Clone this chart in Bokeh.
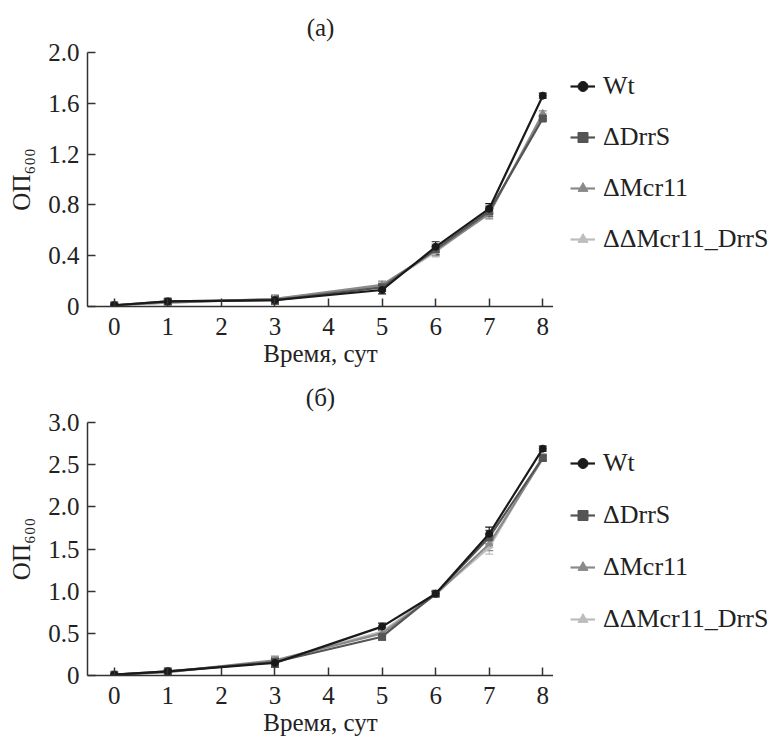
import numpy as np
from bokeh.plotting import figure
from bokeh.layouts import column, row
from bokeh.models import (ColumnDataSource, Whisker, Legend, LegendItem, FixedTicker,
                          NumeralTickFormatter, Title, TeeHead)
from bokeh.embed import file_html
from bokeh.resources import INLINE

# ---------------- data ----------------
days = [0, 1, 3, 5, 6, 7, 8]
series_names = ["Wt", "ΔDrrS", "ΔMcr11", "ΔΔMcr11_DrrS"]

# panel (а)
a_wt = [0.01, 0.04, 0.05, 0.13, 0.47, 0.77, 1.66]
a_drrs = [0.01, 0.04, 0.05, 0.15, 0.45, 0.75, 1.48]
a_mcr11 = [0.01, 0.03, 0.06, 0.17, 0.44, 0.73, 1.52]
a_dd = [0.01, 0.03, 0.06, 0.16, 0.43, 0.74, 1.50]
a_err = [0.01, 0.02, 0.03, 0.03, 0.04, 0.04, 0.02]

# panel (б)
b_wt = [0.01, 0.05, 0.15, 0.58, 0.97, 1.68, 2.69]
b_drrs = [0.01, 0.05, 0.16, 0.46, 0.97, 1.64, 2.58]
b_mcr11 = [0.01, 0.04, 0.18, 0.50, 0.96, 1.56, 2.57]
b_dd = [0.01, 0.04, 0.17, 0.52, 0.97, 1.52, 2.60]
b_err = [0.01, 0.02, 0.05, 0.04, 0.03, 0.08, 0.03]

x_ticks = [0, 1, 2, 3, 4, 5, 6, 7, 8]
a_yticks = [0, 0.4, 0.8, 1.2, 1.6, 2.0]
b_yticks = [0, 0.5, 1.0, 1.5, 2.0, 2.5, 3.0]

colors = ["#1a1a1a", "#555555", "#8a8a8a", "#bdbdbd"]
markers = ["circle", "square", "triangle", "triangle"]
angles = [0, 0, 0, -np.pi / 2]

FONT = "Liberation Serif"
AX = "#333333"
TXT = "#222222"


def make_panel(title, series, err, yticks, ymax, height, border_top, border_bottom,
               title_standoff, glyph_h, spacing):
    p = figure(width=553, height=height, x_range=(-0.5, 8.2), y_range=(0, ymax),
               output_backend="svg", toolbar_location=None,
               min_border_left=87, min_border_right=0,
               min_border_top=border_top, min_border_bottom=border_bottom)
    p.outline_line_color = None
    p.grid.visible = False
    p.background_fill_color = "white"
    p.border_fill_color = "white"

    t = Title(text=title, align="center", text_font=FONT, text_font_size="25px",
              text_font_style="normal", text_color=TXT, standoff=title_standoff)
    p.add_layout(t, "above")

    for i in [3, 2, 1, 0]:
        ys = series[i]
        src = ColumnDataSource(dict(x=days, y=ys,
                                    lo=[y - e for y, e in zip(ys, err)],
                                    hi=[y + e for y, e in zip(ys, err)]))
        w = Whisker(source=src, base="x", upper="hi", lower="lo",
                    line_color=colors[i], line_width=1.2,
                    upper_head=TeeHead(size=8, line_color=colors[i], line_width=1.2),
                    lower_head=TeeHead(size=8, line_color=colors[i], line_width=1.2))
        p.add_layout(w)
        p.line("x", "y", source=src, line_color=colors[i], line_width=2.2)
        p.scatter("x", "y", source=src, marker=markers[i], size=7,
                  angle=angles[i], fill_color=colors[i], line_color=colors[i])

    p.xaxis.ticker = FixedTicker(ticks=x_ticks)
    p.yaxis.ticker = FixedTicker(ticks=yticks)
    p.yaxis.formatter = NumeralTickFormatter(format="0.0")
    p.yaxis.major_label_overrides = {0: "0"}
    for ax in (p.xaxis, p.yaxis):
        ax.axis_line_color = AX
        ax.axis_line_width = 1.5
        ax.major_tick_line_color = AX
        ax.major_tick_line_width = 1.5
        ax.major_tick_in = 8
        ax.major_tick_out = 0
        ax.minor_tick_line_color = None
        ax.major_label_text_font = FONT
        ax.major_label_text_font_size = "25px"
        ax.major_label_text_color = TXT
        ax.axis_label_text_font = FONT
        ax.axis_label_text_font_size = "25px"
        ax.axis_label_text_font_style = "normal"
        ax.axis_label_text_color = TXT
    p.xaxis.axis_label = "Время, сут"
    p.xaxis.major_label_standoff = 11
    p.xaxis.axis_label_standoff = 2
    p.yaxis.axis_label = "ОП₆₀₀"
    p.yaxis.major_label_standoff = 8
    p.yaxis.axis_label_standoff = 10

    # legend in a side figure (legend glyphs only, nothing drawn in its frame)
    lf = figure(width=223, height=height, x_range=(0, 1), y_range=(0, 1),
                x_axis_type=None, y_axis_type=None,
                output_backend="svg", toolbar_location=None,
                min_border_left=0, min_border_right=0,
                min_border_top=border_top, min_border_bottom=0)
    lf.outline_line_color = None
    lf.grid.visible = False
    items = []
    for i in range(4):
        dummy = ColumnDataSource(dict(x=[np.nan], y=[np.nan]))
        ln = lf.line("x", "y", source=dummy, line_color=colors[i], line_width=2.2)
        sc = lf.scatter("x", "y", source=dummy, marker=markers[i], size=7,
                        angle=angles[i], fill_color=colors[i], line_color=colors[i])
        items.append(LegendItem(label=series_names[i], renderers=[ln, sc]))
    legend = Legend(items=items, location="top_left", margin=17, padding=0,
                    glyph_width=25, glyph_height=glyph_h, label_height=glyph_h,
                    spacing=spacing, label_standoff=8,
                    label_text_font=FONT, label_text_font_size="26px",
                    label_text_color=TXT,
                    border_line_color=None, background_fill_alpha=0)
    lf.add_layout(legend)
    return row(p, lf, spacing=0)


ra = make_panel("(а)", [a_wt, a_drrs, a_mcr11, a_dd], a_err, a_yticks, 2.0,
                369, 51, 63, 23, 34, 17)
rb = make_panel("(б)", [b_wt, b_drrs, b_mcr11, b_dd], b_err, b_yticks, 3.0,
                369, 53, 63, 24, 48, 4)

layout = column(ra, rb, spacing=0)
open("out.html", "w").write(file_html(layout, INLINE))
